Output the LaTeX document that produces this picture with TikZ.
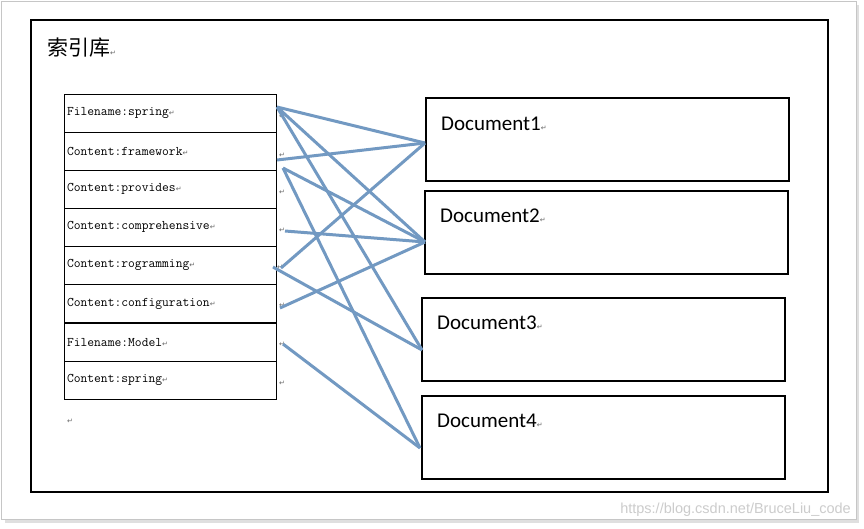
\documentclass[tikz,border=0pt]{standalone}
\usepackage{fontspec}
\newfontfamily\cjk{Noto Sans CJK SC}
\newfontfamily\calib{Carlito}
\newfontfamily\dejavu{DejaVu Sans}
\newfontfamily\arialfont{Liberation Sans}
\definecolor{linkblue}{RGB}{114,153,194}
\newcommand{\pmark}{{\dejavu\fontsize{7}{7}\selectfont\color{gray!80!black}↵}}
\tikzset{
  row/.style={draw,thick,minimum height=38pt,text width=206pt,inner xsep=3pt,
              align=left,font=\ttfamily\fontsize{13.2}{14}\selectfont},
  docbox/.style={draw,line width=1.8pt,minimum width=363pt,minimum height=83pt,anchor=north west},
  doctext/.style={anchor=west,inner sep=0pt,font=\calib\fontsize{21}{22}\selectfont},
  retmark/.style={inner sep=0pt,font=\dejavu\fontsize{7}{7}\selectfont,text=gray!80!black},
  link/.style={linkblue,line width=3pt}
}
\begin{document}
\begin{tikzpicture}[x=1pt,y=-1pt]
  \useasboundingbox (0,0) rectangle (864,528);
  \fill[gray!25] (5,5) rectangle (859,523);
  \draw[draw=gray!45,fill=white] (1,1) rectangle (856,519);
  \draw[line width=2pt] (31,20) rectangle (828,492);
  \node[anchor=west,inner sep=0pt,font=\cjk\fontsize{21}{22}\selectfont] (title) at (47,48) {索引库\pmark};

  \node[row] (r1) at (170,113)   {Filename:spring\pmark};
  \node[row] (r2) at (170,151)   {Content:framework\pmark};
  \node[row] (r3) at (170,189)   {Content:provides\pmark};
  \node[row] (r4) at (170,227)   {Content:comprehensive\pmark};
  \node[row] (r5) at (170,265)   {Content:rogramming\pmark};
  \node[row] (r6) at (170,303.5) {Content:configuration\pmark};
  \node[row] (r7) at (170,342)   {Filename:Model\pmark};
  \node[row] (r8) at (170,380)   {Content:spring\pmark};
  \node[retmark] (m1) at (282,116) {↵};
  \node[retmark] (m2) at (282,155) {↵};
  \node[retmark] (m3) at (282,192) {↵};
  \node[retmark] (m4) at (282,230) {↵};
  \node[retmark] (m5) at (280,267) {↵};
  \node[retmark] (m6) at (282,305) {↵};
  \node[retmark] (m7) at (282,344) {↵};
  \node[retmark] (m8) at (282,383) {↵};
  \node[retmark] (m9) at (70,421)  {↵};

  \node[docbox] (d1) at (425,97)  {};
  \node[docbox] (d2) at (424,190) {};
  \node[docbox] (d3) at (421,297) {};
  \node[docbox] (d4) at (421,395) {};
  \node[doctext] (t1) at (441,124) {Document1\pmark};
  \node[doctext] (t2) at (440,216) {Document2\pmark};
  \node[doctext] (t3) at (437,323) {Document3\pmark};
  \node[doctext] (t4) at (437,421) {Document4\pmark};

  \coordinate (fs)  at (277,107);
  \coordinate (fw1) at (277,160);
  \coordinate (fw2) at (283,168);
  \coordinate (cp)  at (285,231);
  \coordinate (rg1) at (281,268);
  \coordinate (rg2) at (273,267);
  \coordinate (cf)  at (280,308);
  \coordinate (md)  at (283,344);
  \coordinate (e1)  at (425,143);
  \coordinate (e2)  at (425,242);
  \coordinate (e3)  at (422,350);
  \coordinate (e4)  at (420,448);

  \begin{scope}[every path/.style={link}]
    \draw (fs)  -- (e1);
    \draw (fs)  -- (e2);
    \draw (fs)  -- (e3);
    \draw (fw1) -- (e1);
    \draw (fw2) -- (e2);
    \draw (fw2) -- (e4);
    \draw (cp)  -- (e2);
    \draw (rg1) -- (e1);
    \draw (rg2) -- (e3);
    \draw (cf)  -- (e2);
    \draw (md)  -- (e4);
  \end{scope}

  \node[anchor=east,inner sep=0pt,text=gray!40,font=\arialfont\fontsize{14.5}{15}\selectfont]
       (wm) at (851,510) {https://blog.csdn.net/BruceLiu\_code};
\end{tikzpicture}
\end{document}
